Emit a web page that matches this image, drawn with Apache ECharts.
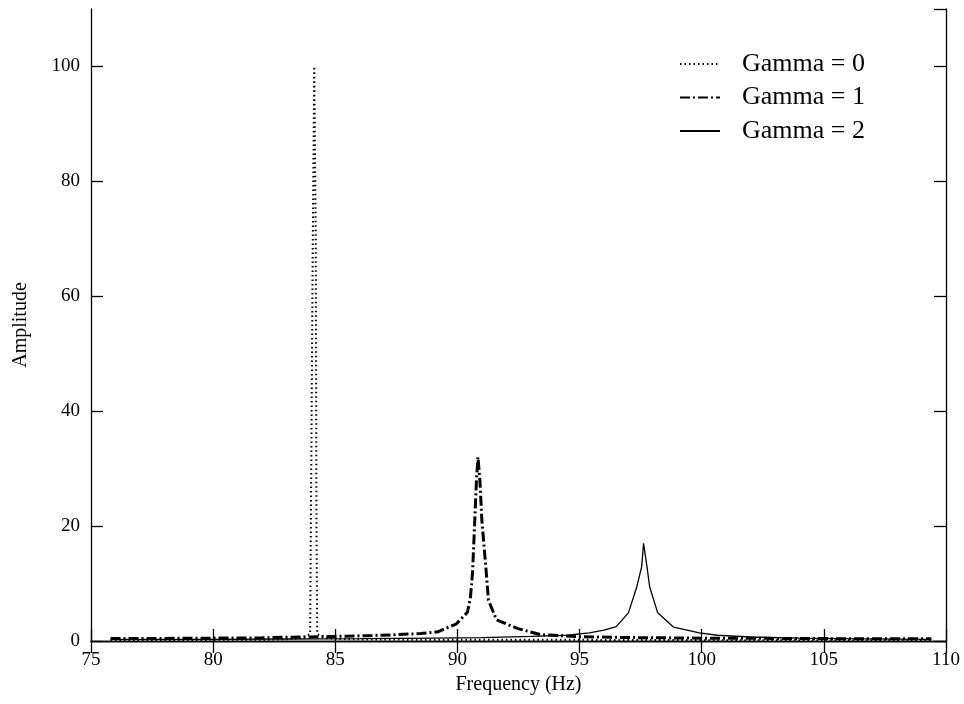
<!DOCTYPE html>
<html>
<head>
<meta charset="utf-8">
<script src="https://cdn.jsdelivr.net/npm/echarts@6/dist/echarts.min.js"></script>
<style>
html,body{margin:0;padding:0;background:#fff;}
#chart{width:964px;height:704px;}
</style>
</head>
<body>
<div id="chart"></div>
<script>
// ---- data ----
const seriesNames = ['Gamma = 0', 'Gamma = 1', 'Gamma = 2'];

const freqG0 = [75.8, 78, 80, 82, 83, 83.6, 83.97, 84.0, 84.08, 84.14, 84.2, 84.23, 84.26, 84.6, 85.5, 87, 90, 95, 100, 105, 109.4];
const ampG0  = [0.15, 0.15, 0.2, 0.2, 0.3, 0.5, 1.2, 20, 70, 100, 70, 20, 1.2, 0.5, 0.3, 0.25, 0.2, 0.2, 0.15, 0.15, 0.15];

const freqG1 = [75.8, 78, 80, 82, 83, 85, 86.5, 87.5, 88.5, 89.2, 89.96, 90.41, 90.53, 90.62, 90.7, 90.78, 90.84, 90.92, 91.0, 91.15, 91.27, 91.6, 92.45, 93.4, 95, 97, 100, 103, 106, 109.4];
const ampG1  = [0.45, 0.45, 0.5, 0.55, 0.65, 0.8, 0.95, 1.1, 1.3, 1.6, 3.0, 5.0, 7.5, 12, 20, 28, 32, 28, 21, 13.5, 7.1, 3.7, 2.2, 1.1, 0.75, 0.6, 0.5, 0.45, 0.4, 0.4];

const freqG2 = [75.8, 78, 80, 83, 86, 89, 91, 93, 94.5, 95.4, 96.0, 96.5, 97.0, 97.34, 97.54, 97.62, 97.76, 97.87, 98.2, 98.85, 99.9, 100.65, 102, 104, 106, 109.4];
const ampG2  = [0.3, 0.3, 0.3, 0.35, 0.4, 0.5, 0.6, 0.8, 1.0, 1.4, 1.9, 2.5, 4.9, 9.4, 12.9, 17, 12.9, 9.4, 4.9, 2.4, 1.4, 1.0, 0.7, 0.5, 0.4, 0.3];

const xTicks = {min: 75, max: 110, interval: 5};
const yTicks = {min: 0, max: 110, interval: 20};

function pairs(xs, ys) { return xs.map((x, i) => [x, ys[i]]); }

const FONT = 'Liberation Serif';
const chart = echarts.init(document.getElementById('chart'), null, {renderer: 'canvas'});

const frameAxis = {
  axisLine: {show: true, lineStyle: {color: '#000', width: 1.3}},
  axisTick: {show: true, inside: true, length: 12, lineStyle: {color: '#000', width: 1.3}},
  splitLine: {show: false}
};

chart.setOption({
  animation: false,
  backgroundColor: '#fff',
  grid: {left: 91, right: 18, top: 9, bottom: 63, containLabel: false},
  legend: {
    orient: 'vertical',
    left: 674,
    top: 46,
    itemWidth: 40,
    itemHeight: 14,
    itemGap: 7.5,
    data: seriesNames,
    itemStyle: {opacity: 0, color: 'rgba(0,0,0,0)', borderWidth: 0},
    textStyle: {fontFamily: FONT, fontSize: 26, color: '#000', padding: [0, 0, 0, 17]}
  },
  xAxis: [
    Object.assign({
      type: 'value', position: 'bottom',
      min: xTicks.min, max: xTicks.max, interval: xTicks.interval,
      name: 'Frequency (Hz)', nameLocation: 'middle', nameGap: 32,
      nameTextStyle: {fontFamily: FONT, fontSize: 20, color: '#000'},
      axisLabel: {fontFamily: FONT, fontSize: 19, color: '#000', margin: 10}
    }, frameAxis),
    Object.assign({
      type: 'value', position: 'top',
      min: xTicks.min, max: xTicks.max, interval: xTicks.interval,
      axisLabel: {show: false}
    }, frameAxis)
  ],
  yAxis: [
    Object.assign({
      type: 'value', position: 'left',
      min: yTicks.min, max: yTicks.max, interval: yTicks.interval,
      name: 'Amplitude', nameLocation: 'middle', nameGap: 60, nameRotate: 90,
      nameTextStyle: {fontFamily: FONT, fontSize: 20, color: '#000'},
      axisLabel: {fontFamily: FONT, fontSize: 19, color: '#000', margin: 11, showMaxLabel: false}
    }, frameAxis),
    Object.assign({
      type: 'value', position: 'right',
      min: yTicks.min, max: yTicks.max, interval: yTicks.interval,
      axisLabel: {show: false}
    }, frameAxis)
  ],
  series: [
    {
      name: seriesNames[0], type: 'line', data: pairs(freqG0, ampG0),
      symbol: 'none', smooth: false,
      lineStyle: {color: '#000', width: 2, type: [1.5, 3]},
      itemStyle: {color: '#000'}
    },
    {
      name: seriesNames[1], type: 'line', data: pairs(freqG1, ampG1),
      symbol: 'none', smooth: false,
      lineStyle: {color: '#000', width: 3, type: [10, 3, 2, 3]},
      itemStyle: {color: '#000'}
    },
    {
      name: seriesNames[2], type: 'line', data: pairs(freqG2, ampG2),
      symbol: 'none', smooth: false,
      lineStyle: {color: '#000', width: 1.3},
      itemStyle: {color: '#000'}
    }
  ]
});
</script>
</body>
</html>
